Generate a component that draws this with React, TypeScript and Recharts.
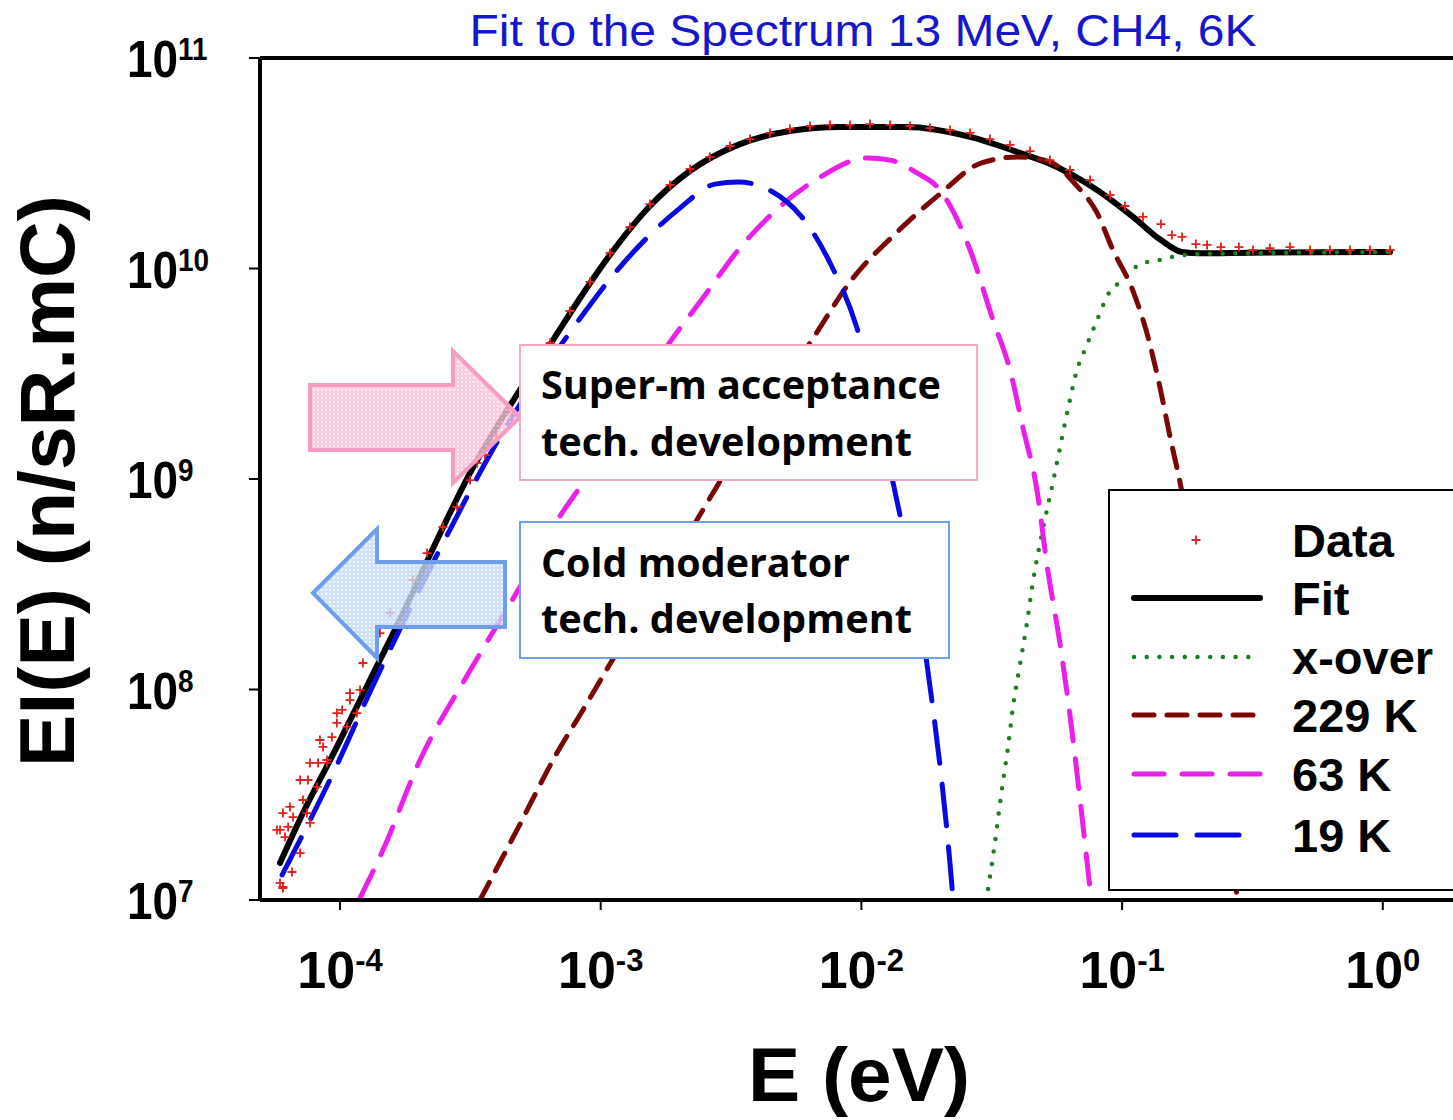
import React from 'react';
import {
  ComposedChart,
  Line,
  Scatter,
  XAxis,
  YAxis,
  ReferenceLine,
  Legend,
} from 'recharts';

// all values are log10 (E in eV, EI(E) in n/sR.mC)
const xTicks = [-4, -3, -2, -1, 0];
const yTicks = [7, 8, 9, 10, 11];

const fitLogE = [-4.23, -4.142, -4.012, -3.885, -3.758, -3.628, -3.501, -3.375, -3.317, -3.183, -3.079, -2.976, -2.811, -2.658, -2.466, -2.274, -2.082, -1.825, -1.583, -1.392, -1.284, -1.096, -0.958, -0.851, -0.77, -0.701, -0.509, 0.028];
const fitLogY = [7.176, 7.413, 7.727, 8.045, 8.363, 8.71, 9.029, 9.295, 9.409, 9.66, 9.86, 10.045, 10.297, 10.463, 10.591, 10.653, 10.672, 10.672, 10.625, 10.549, 10.501, 10.373, 10.245, 10.135, 10.078, 10.072, 10.075, 10.078];

const xoverLogE = [-1.514, -1.488, -1.461, -1.438, -1.418, -1.392, -1.365, -1.342, -1.303, -1.265, -1.23, -1.207, -1.173, -1.135, -1.096, -1.046, -1.008, -0.958, -0.905, -0.859, -0.809, -0.763, -0.717, 0.02];
const xoverLogY = [7.052, 7.271, 7.527, 7.722, 7.922, 8.116, 8.316, 8.511, 8.767, 8.986, 9.2, 9.337, 9.518, 9.637, 9.755, 9.893, 9.936, 9.998, 10.031, 10.04, 10.055, 10.064, 10.069, 10.078];

const k229LogE = [-3.463, -3.321, -3.168, -3.068, -2.976, -2.631, -2.542, -2.197, -2.032, -1.879, -1.699, -1.541, -1.399, -1.277, -1.177, -1.096, -1.035, -0.958, -0.905, -0.855, -0.816, -0.778, -0.559];
const k229LogY = [7.0, 7.333, 7.698, 7.903, 8.097, 8.805, 8.99, 9.646, 9.955, 10.154, 10.354, 10.501, 10.53, 10.506, 10.397, 10.264, 10.088, 9.893, 9.694, 9.437, 9.2, 8.986, 7.014];

const k63LogE = [-3.923, -3.835, -3.693, -3.501, -3.31, -3.156, -3.068, -2.734, -2.608, -2.466, -2.339, -2.17, -1.978, -1.89, -1.787, -1.699, -1.583, -1.495, -1.43, -1.38, -1.326, -1.288, -1.238, -1.2, -1.162, -1.123];
const k63LogY = [7.01, 7.238, 7.665, 8.09, 8.487, 8.824, 8.981, 9.651, 9.86, 10.097, 10.264, 10.425, 10.525, 10.515, 10.454, 10.373, 10.088, 9.755, 9.518, 9.242, 8.943, 8.591, 8.216, 7.879, 7.485, 7.052];

const k19LogE = [-4.222, -4.012, -3.885, -3.628, -3.375, -3.106, -2.926, -2.696, -2.562, -2.473, -2.285, -2.12, -2.017, -1.879, -1.748, -1.66, -1.649];
const k19LogY = [7.119, 7.641, 7.988, 8.639, 9.223, 9.717, 10.007, 10.287, 10.401, 10.411, 10.316, 10.026, 9.717, 8.986, 8.116, 7.171, 7.014];

const dataLogE = [
  -4.23, -4.219, -4.184, -4.153, -4.23, -4.199, -4.211, -4.18, -4.127, -4.115, -4.142, -4.123, -4.088, -4.084, -4.05, -4.065,
  -4.031, -4.012, -3.973, -3.992, -3.962, -3.935, -3.923, -4.242, -4.219, -4.192, -4.153, -4.115, -4.077, -4.05, -4.012, -3.962,
  -3.912, -3.847, -3.808, -3.72, -3.666, -3.605, -3.551, -3.474, -3.398, -3.77, -3.501, -3.444, -3.348, -4.219,
  -3.271, -3.194, -3.118, -3.041, -2.964, -2.888, -2.811, -2.734, -2.657, -2.581, -2.504, -2.427, -2.351, -2.274, -2.197, -2.12,
  -2.044, -1.967, -1.89, -1.814, -1.737, -1.66, -1.583, -1.507, -1.43, -1.353, -1.277, -1.2, -1.123, -1.046, -0.989,
  -0.92, -0.851, -0.809, -0.77, -0.717, -0.674, -0.621, -0.552, -0.498, -0.433, -0.356, -0.279, -0.203, -0.126, -0.049, 0.028,
];
const dataLogY = [
  7.081, 7.057, 7.133, 7.223, 7.333, 7.347, 7.299, 7.394, 7.413, 7.366, 7.475, 7.57, 7.537, 7.651, 7.665, 7.727,
  7.774, 7.841, 7.822, 7.903, 7.95, 7.888, 7.998, 7.333, 7.413, 7.442, 7.57, 7.651, 7.76, 7.651, 7.888, 7.983,
  8.126, 8.268, 8.363, 8.52, 8.648, 8.772, 8.867, 9.076, 9.2, 8.306, 8.995, 9.114, 9.328, 7.062,
  9.503, 9.646, 9.798, 9.936, 10.074, 10.197, 10.306, 10.397, 10.473, 10.53, 10.582, 10.615, 10.644, 10.663, 10.677, 10.682,
  10.682, 10.686, 10.682, 10.677, 10.667, 10.658, 10.644, 10.615, 10.587, 10.558, 10.515, 10.468, 10.42, 10.349, 10.297,
  10.245, 10.211, 10.159, 10.15, 10.116, 10.112, 10.102, 10.102, 10.088, 10.097, 10.102, 10.088, 10.088, 10.088, 10.088, 10.088,
];

const toRows = (xs: number[], ys: number[]) => xs.map((e, i) => ({ e, y: ys[i] }));

const ARIAL = '"Liberation Sans", Arial, Helvetica, sans-serif';
const CALIBRI = '"Open Sans", "Noto Sans", sans-serif';

const styles: Record<string, { color: string; dash?: string; width: number }> = {
  Fit: { color: '#000000', width: 6 },
  'x-over': { color: '#1f7d1f', dash: '0 12.7', width: 4.5 },
  '229 K': { color: '#7a0606', dash: '20 13', width: 5 },
  '63 K': { color: '#ea1fea', dash: '30 18', width: 5 },
  '19 K': { color: '#0a0ae0', dash: '42 21', width: 5 },
};
const legendOrder = ['Data', 'Fit', 'x-over', '229 K', '63 K', '19 K'];

const PlusMark = (props: any) => {
  const { cx, cy } = props;
  if (cx == null || cy == null) return null;
  return (
    <path
      d={`M${cx - 4.5},${cy}h9M${cx},${cy - 4.5}v9`}
      stroke="#e3201b"
      strokeWidth={1.8}
      fill="none"
    />
  );
};

const XTick = (props: any) => {
  const { x, y, payload } = props;
  return (
    <text x={x} y={y + 76} textAnchor="middle" fontFamily={ARIAL} fontWeight="bold" fontSize={52} fill="#000">
      <tspan>10</tspan>
      <tspan fontSize={31} dy={-17}>{payload.value}</tspan>
    </text>
  );
};

const YTick = (props: any) => {
  const { x, y, payload } = props;
  return (
    <g transform={`translate(${x - 120},${y}) scale(0.9,1)`}>
      <text x={0} y={19} fontFamily={ARIAL} fontWeight="bold" fontSize={51} fill="#000">
        <tspan>10</tspan>
        <tspan fontSize={31} dy={-17}>{payload.value}</tspan>
      </text>
    </g>
  );
};

const LegendBox = () => {
  const rowY = [51, 109, 168, 226, 285, 346];
  return (
    <svg width={360} height={402} style={{ display: 'block' }}>
      <rect x={1} y={1} width={358} height={400} fill="#fff" stroke="#000" strokeWidth={2} />
      {legendOrder.map((name, i) => {
        const cy = rowY[i];
        const st = styles[name];
        return (
          <g key={name}>
            {name === 'Data' ? (
              <PlusMark cx={88} cy={cy} />
            ) : (
              <line
                x1={26}
                x2={152}
                y1={cy}
                y2={cy}
                stroke={st.color}
                strokeWidth={st.width}
                strokeDasharray={st.dash}
                strokeLinecap="round"
              />
            )}
            <text x={184} y={cy + 17} fontFamily={ARIAL} fontWeight="bold" fontSize={47} fill="#000">
              {name}
            </text>
          </g>
        );
      })}
    </svg>
  );
};

const series = [
  { name: 'Fit', rows: toRows(fitLogE, fitLogY) },
  { name: 'x-over', rows: toRows(xoverLogE, xoverLogY) },
  { name: '229 K', rows: toRows(k229LogE, k229LogY) },
  { name: '63 K', rows: toRows(k63LogE, k63LogY) },
  { name: '19 K', rows: toRows(k19LogE, k19LogY) },
];

export default function App() {
  const dataRows = toRows(dataLogE, dataLogY);

  return (
    <div style={{ position: 'fixed', left: 0, top: 0, width: 1453, height: 1120, overflow: 'hidden', background: '#fff' }}>
      <div style={{ position: 'relative', width: 1560, height: 1120 }}>
        <ComposedChart width={1560} height={1120} margin={{ top: 58, right: 40, bottom: 120, left: 140 }}>
          <XAxis
            dataKey="e"
            type="number"
            domain={[-4.30687, 0.5263]}
            ticks={xTicks}
            interval={0}
            allowDataOverflow
            height={100}
            tickSize={10}
            axisLine={{ stroke: '#000', strokeWidth: 4 }}
            tickLine={{ stroke: '#000', strokeWidth: 2 }}
            tick={<XTick />}
          />
          <YAxis
            dataKey="y"
            type="number"
            domain={[7, 11]}
            ticks={yTicks}
            interval={0}
            allowDataOverflow
            width={120}
            tickSize={11}
            axisLine={{ stroke: '#000', strokeWidth: 4 }}
            tickLine={{ stroke: '#000', strokeWidth: 2 }}
            tick={<YTick />}
          />
          <ReferenceLine y={11} stroke="#000" strokeWidth={4} />
          <Scatter name="Data" data={dataRows} dataKey="y" shape={<PlusMark />} isAnimationActive={false} />
          {series.map((s) => (
            <Line
              key={s.name}
              name={s.name}
              data={s.rows}
              dataKey="y"
              type="monotone"
              stroke={styles[s.name].color}
              strokeWidth={styles[s.name].width}
              strokeDasharray={styles[s.name].dash}
              strokeLinecap="round"
              dot={false}
              activeDot={false}
              isAnimationActive={false}
            />
          ))}
          <Legend
            layout="vertical"
            align="center"
            verticalAlign="middle"
            wrapperStyle={{ left: 1108, top: 489, width: 360, height: 402 }}
            content={<LegendBox />}
          />
        </ComposedChart>

        <svg width={1560} height={1120} style={{ position: 'absolute', left: 0, top: 0, pointerEvents: 'none' }}>
          <defs>
            <pattern id="pinkDots" width="4" height="4" patternUnits="userSpaceOnUse">
              <rect width="4" height="4" fill="#f9c2d8" />
              <rect x="1" y="1" width="1.6" height="1.6" fill="#ffffff" />
            </pattern>
            <pattern id="blueDots" width="4" height="4" patternUnits="userSpaceOnUse">
              <rect width="4" height="4" fill="#c4d8f8" />
              <rect x="1" y="1" width="1.6" height="1.6" fill="#ffffff" />
            </pattern>
          </defs>

          <text x={863} y={46} textAnchor="middle" fontFamily={ARIAL} fontSize={45} fill="#1616cc" textLength={787} lengthAdjust="spacingAndGlyphs">
            Fit to the Spectrum 13 MeV, CH4, 6K
          </text>

          <text transform="translate(74,481) rotate(-90)" textAnchor="middle" fontFamily={ARIAL} fontWeight="bold" fontSize={78} fill="#000" textLength={572} lengthAdjust="spacingAndGlyphs">
            EI(E) (n/sR.mC)
          </text>
          <text x={859} y={1101} textAnchor="middle" fontFamily={ARIAL} fontWeight="bold" fontSize={76} fill="#000" textLength={222} lengthAdjust="spacingAndGlyphs">
            E (eV)
          </text>

          <polygon
            points="310,385 453,385 453,351 520,417 453,483 453,450 310,450"
            fill="url(#pinkDots)"
            fillOpacity={0.8}
            stroke="#f69cc2"
            strokeWidth={4}
            strokeLinejoin="miter"
          />
          <polygon
            points="313,593 377,529 377,562 505,562 505,627 377,627 377,658"
            fill="url(#blueDots)"
            fillOpacity={0.8}
            stroke="#6d9eeb"
            strokeWidth={4}
            strokeLinejoin="miter"
          />

          <rect x={520} y={345} width={457} height={135} fill="#fff" stroke="#f5a6c7" strokeWidth={2} />
          <text x={541} y={399} fontFamily={CALIBRI} fontWeight="bold" fontSize={40} fill="#000" textLength={400} lengthAdjust="spacingAndGlyphs">
            Super-m acceptance
          </text>
          <text x={541} y={456} fontFamily={CALIBRI} fontWeight="bold" fontSize={40} fill="#000" textLength={371} lengthAdjust="spacingAndGlyphs">
            tech. development
          </text>

          <rect x={520} y={522} width={429} height={136} fill="#fff" stroke="#6f9ff0" strokeWidth={2} />
          <text x={541} y={577} fontFamily={CALIBRI} fontWeight="bold" fontSize={40} fill="#000" textLength={309} lengthAdjust="spacingAndGlyphs">
            Cold moderator
          </text>
          <text x={541} y={633} fontFamily={CALIBRI} fontWeight="bold" fontSize={40} fill="#000" textLength={371} lengthAdjust="spacingAndGlyphs">
            tech. development
          </text>
        </svg>
      </div>
    </div>
  );
}
